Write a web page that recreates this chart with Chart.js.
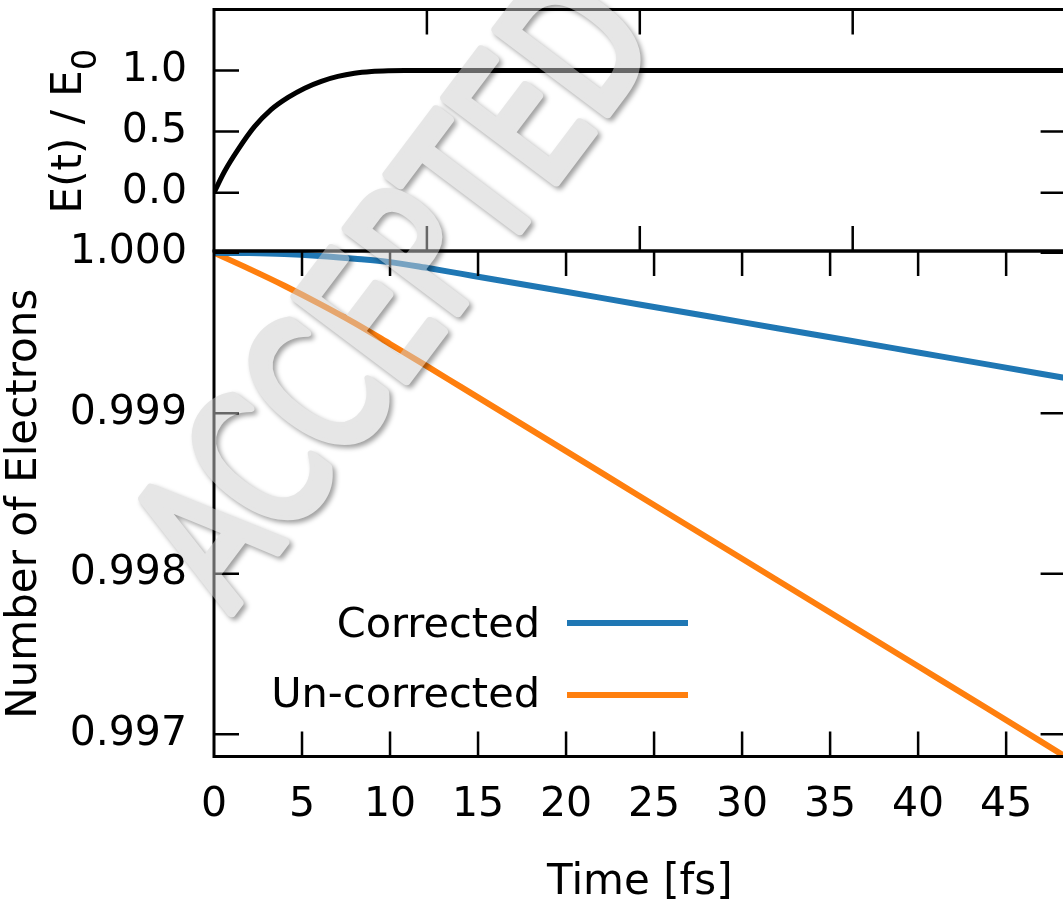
<!DOCTYPE html>
<html><head><meta charset="utf-8">
<script src="https://cdn.jsdelivr.net/npm/chart.js@4.4.1/dist/chart.umd.min.js"></script>
<style>
html,body{margin:0;padding:0;background:#fff;overflow:hidden;}
#wrap{position:relative;width:1063px;height:906px;overflow:hidden;background:#fff;}
canvas{position:absolute;left:0;top:0;}
</style></head><body>
<div id="wrap"><canvas id="bot" width="1070" height="906"></canvas><canvas id="top" width="1070" height="906"></canvas></div>
<script>
// ---- data ----
const timeFs = [0, 2, 4, 6, 8, 10, 12, 14, 16, 20, 24, 28, 32, 36, 40, 44, 48.378];
const corrected = [1.0, 0.999998, 0.999992, 0.99998, 0.999963, 0.999942, 0.999908, 0.99987, 0.999832, 0.999757, 0.999681, 0.999606, 0.99953, 0.999455, 0.999379, 0.999303, 0.99922];
const uncorrected = [1.0, 0.9999, 0.999795, 0.999682, 0.999562, 0.999432, 0.9993, 0.999166, 0.999032, 0.998764, 0.998496, 0.998228, 0.99796, 0.997692, 0.997424, 0.997156, 0.99686];
const fieldTimeAu = [0, 25, 56, 95, 134, 174, 213, 252, 291, 330, 370, 410, 448, 600, 2000];
const fieldRatio = [0, 0.175, 0.35, 0.54, 0.68, 0.78, 0.856, 0.912, 0.952, 0.978, 0.992, 0.998, 1.0, 1.0, 1.0];
const timeTicksFs = [0, 5, 10, 15, 20, 25, 30, 35, 40, 45];
const fieldTimeTicksAu = [500, 1000, 1500];
const electronTicks = [0.997, 0.998, 0.999, 1.000];
const fieldTicks = [0, 0.5, 1.0];
const seriesNames = ['Corrected', 'Un-corrected'];
const seriesColors = ['#1f77b4', '#ff7f0e'];

const FONT = 'DejaVu Sans';
Chart.defaults.font.family = FONT;
Chart.defaults.color = '#000';

const framePlugin = {
  id: 'frame',
  afterDatasetsDraw(chart, args, o) {
    const {ctx, chartArea: a} = chart;
    const xs = chart.scales[o.x], ys = chart.scales[o.y];
    const L = 25;
    ctx.save();
    ctx.strokeStyle = '#000';
    ctx.lineWidth = 2.5;
    ctx.beginPath();
    for (const v of o.xTicks) {
      const p = xs.getPixelForValue(v);
      ctx.moveTo(p, a.top); ctx.lineTo(p, a.top + L);
      ctx.moveTo(p, a.bottom); ctx.lineTo(p, a.bottom - L);
    }
    for (const v of o.yTicks) {
      const p = ys.getPixelForValue(v);
      ctx.moveTo(a.left, p); ctx.lineTo(a.left + L, p);
      ctx.moveTo(a.right, p); ctx.lineTo(a.right - L, p);
    }
    ctx.stroke();
    ctx.lineWidth = 3;
    ctx.strokeRect(a.left, a.top, a.right - a.left, a.bottom - a.top);
    ctx.restore();
  }
};

const legendPlugin = {
  id: 'sideLegend',
  afterDraw(chart) {
    const ctx = chart.ctx;
    ctx.save();
    ctx.font = '41.5px "' + FONT + '"';
    ctx.textAlign = 'right';
    ctx.textBaseline = 'alphabetic';
    const rows = [{y: 637, ly: 623}, {y: 707, ly: 695}];
    chart.data.datasets.forEach((ds, i) => {
      ctx.fillStyle = '#000';
      ctx.fillText(ds.label, 540, rows[i].y);
      ctx.strokeStyle = ds.borderColor;
      ctx.lineWidth = 6;
      ctx.beginPath();
      ctx.moveTo(567, rows[i].ly); ctx.lineTo(688, rows[i].ly);
      ctx.stroke();
    });
    ctx.restore();
  }
};

const topTitlePlugin = {
  id: 'topTitle',
  afterDraw(chart) {
    const ctx = chart.ctx;
    ctx.save();
    ctx.translate(66, 131);
    ctx.rotate(-Math.PI / 2);
    ctx.fillStyle = '#000';
    ctx.textBaseline = 'alphabetic';
    ctx.textAlign = 'left';
    const main = 'E(t) / E', sub = '0';
    ctx.font = '42px "' + FONT + '"';
    const wm = ctx.measureText(main).width;
    ctx.font = '34px "' + FONT + '"';
    const ws = ctx.measureText(sub).width;
    const x0 = -(wm + ws) / 2;
    ctx.font = '42px "' + FONT + '"';
    ctx.fillText(main, x0, 15.3);
    ctx.font = '34px "' + FONT + '"';
    ctx.fillText(sub, x0 + wm, 29.9);
    ctx.restore();
  }
};

const watermarkPlugin = {
  id: 'watermark',
  afterDraw(chart) {
    const ctx = chart.ctx;
    const off = document.createElement('canvas');
    off.width = chart.width; off.height = chart.height;
    const o = off.getContext('2d');
    o.translate(230, 614);
    o.rotate(-53 * Math.PI / 180);
    o.scale(0.71, 1);
    o.font = '190px "' + FONT + '"';
    o.textBaseline = 'alphabetic';
    o.lineJoin = 'round';
    o.shadowColor = 'rgba(0,0,0,0.75)';
    o.shadowBlur = 5;
    o.shadowOffsetX = 3;
    o.shadowOffsetY = 3;
    o.fillStyle = '#cdcdcd';
    o.strokeStyle = '#cdcdcd';
    o.lineWidth = 10;
    o.strokeText('ACCEPTED', 0, 0);
    o.shadowColor = 'rgba(0,0,0,0)';
    o.fillText('ACCEPTED', 0, 0);
    ctx.save();
    ctx.globalAlpha = 0.5;
    ctx.drawImage(off, 0, 0);
    ctx.restore();
  }
};

const font41 = {family: FONT, size: 41};
const noEdgePad = s => { s.paddingTop = 0; s.paddingBottom = 0; };

// ---- lower panel ----
new Chart(document.getElementById('bot'), {
  type: 'line',
  data: {
    datasets: [
      {label: seriesNames[0], data: timeFs.map((t, i) => ({x: t, y: corrected[i]})), borderColor: seriesColors[0], borderWidth: 6, pointRadius: 0, cubicInterpolationMode: 'monotone', fill: false},
      {label: seriesNames[1], data: timeFs.map((t, i) => ({x: t, y: uncorrected[i]})), borderColor: seriesColors[1], borderWidth: 6, pointRadius: 0, cubicInterpolationMode: 'monotone', fill: false}
    ]
  },
  options: {
    responsive: false, animation: false, events: [], devicePixelRatio: 1,
    layout: {padding: {top: 251, right: 4.4, left: 0, bottom: 0}},
    plugins: {legend: {display: false}, tooltip: {enabled: false},
      frame: {x: 'x', y: 'y', xTicks: timeTicksFs.slice(1), yTicks: electronTicks}},
    scales: {
      x: {type: 'linear', min: 0, max: 48.378,
        afterBuildTicks: s => { s.ticks = timeTicksFs.map(v => ({value: v})); },
        grid: {display: false, drawTicks: false}, border: {display: false},
        ticks: {padding: 24, font: font41, color: '#000', maxRotation: 0, autoSkip: false, callback: v => String(v)},
        title: {display: true, text: 'Time [fs]', font: {family: FONT, size: 42, lineHeight: 1.1}, color: '#000', padding: {top: 0, bottom: 0}},
        afterFit: s => { s.height = 149.5; }
      },
      y: {type: 'linear', min: 0.9968617, max: 1.0000112,
        afterBuildTicks: s => { s.ticks = electronTicks.map(v => ({value: v})); },
        grid: {display: false, drawTicks: false}, border: {display: false},
        ticks: {padding: 27, font: font41, color: '#000', callback: v => Number(v).toFixed(3)},
        title: {display: true, text: 'Number of Electrons', font: {family: FONT, size: 42}, color: '#000', padding: {top: 0, bottom: 0}},
        afterFit: s => { s.width = 214; noEdgePad(s); }
      }
    }
  },
  plugins: [framePlugin, legendPlugin]
});

// ---- upper panel ----
new Chart(document.getElementById('top'), {
  type: 'line',
  data: {
    datasets: [
      {label: 'E(t) / E0', data: fieldTimeAu.map((t, i) => ({x: t, y: fieldRatio[i]})), borderColor: '#000', borderWidth: 5, pointRadius: 0, cubicInterpolationMode: 'monotone', fill: false}
    ]
  },
  options: {
    responsive: false, animation: false, events: [], devicePixelRatio: 1,
    layout: {padding: {top: 9.5, right: 4.4, left: 0, bottom: 655}},
    plugins: {legend: {display: false}, tooltip: {enabled: false},
      frame: {x: 'x', y: 'y', xTicks: fieldTimeTicksAu, yTicks: fieldTicks}},
    scales: {
      x: {type: 'linear', min: 0, max: 2000, display: false},
      y: {type: 'linear', min: -0.478, max: 1.5,
        afterBuildTicks: s => { s.ticks = fieldTicks.map(v => ({value: v})); },
        grid: {display: false, drawTicks: false}, border: {display: false},
        ticks: {padding: 27, font: font41, color: '#000', callback: v => Number(v).toFixed(1)},
        afterFit: s => { s.width = 214; noEdgePad(s); }
      }
    }
  },
  plugins: [framePlugin, topTitlePlugin, watermarkPlugin]
});
</script>
</body></html>
